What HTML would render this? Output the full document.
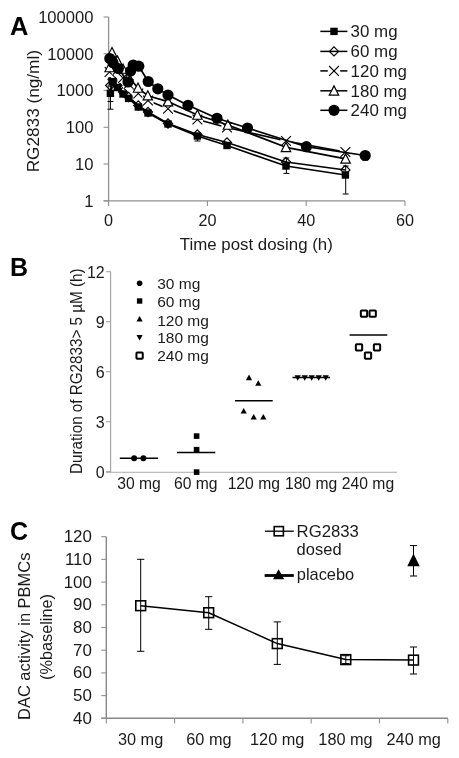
<!DOCTYPE html>
<html><head><meta charset="utf-8"><title>Figure</title>
<style>
html,body{margin:0;padding:0;background:#fff;}
body{width:459px;height:758px;overflow:hidden;font-family:"Liberation Sans",sans-serif;}
svg{display:block;filter:grayscale(1);}
svg text{font-family:"Liberation Sans",sans-serif;}
</style></head><body>
<svg width="459" height="758" viewBox="0 0 459 758">
<rect width="459" height="758" fill="#fff"/>
<text x="9.9" y="34.8" font-size="25" text-anchor="start" fill="#000" textLength="18.4" lengthAdjust="spacingAndGlyphs" font-weight="bold">A</text>
<line x1="108.6" y1="17" x2="108.6" y2="201" stroke="#909090" stroke-width="1.3" />
<line x1="103.6" y1="200.9" x2="405" y2="200.9" stroke="#909090" stroke-width="1.3" />
<line x1="103.6" y1="17" x2="108.6" y2="17" stroke="#909090" stroke-width="1.1" />
<text x="93.5" y="22.8" font-size="16.6" text-anchor="end" fill="#1a1a1a">100000</text>
<line x1="103.6" y1="53.8" x2="108.6" y2="53.8" stroke="#909090" stroke-width="1.1" />
<text x="93.5" y="59.599999999999994" font-size="16.6" text-anchor="end" fill="#1a1a1a">10000</text>
<line x1="103.6" y1="90.5" x2="108.6" y2="90.5" stroke="#909090" stroke-width="1.1" />
<text x="93.5" y="96.3" font-size="16.6" text-anchor="end" fill="#1a1a1a">1000</text>
<line x1="103.6" y1="127.3" x2="108.6" y2="127.3" stroke="#909090" stroke-width="1.1" />
<text x="93.5" y="133.1" font-size="16.6" text-anchor="end" fill="#1a1a1a">100</text>
<line x1="103.6" y1="164" x2="108.6" y2="164" stroke="#909090" stroke-width="1.1" />
<text x="93.5" y="169.8" font-size="16.6" text-anchor="end" fill="#1a1a1a">10</text>
<line x1="103.6" y1="200.8" x2="108.6" y2="200.8" stroke="#909090" stroke-width="1.1" />
<text x="93.5" y="206.60000000000002" font-size="16.6" text-anchor="end" fill="#1a1a1a">1</text>
<line x1="108.6" y1="201" x2="108.6" y2="206" stroke="#909090" stroke-width="1.1" />
<text x="108.6" y="225.5" font-size="16.2" text-anchor="middle" fill="#1a1a1a">0</text>
<line x1="207.39999999999998" y1="201" x2="207.39999999999998" y2="206" stroke="#909090" stroke-width="1.1" />
<text x="207.39999999999998" y="225.5" font-size="16.2" text-anchor="middle" fill="#1a1a1a">20</text>
<line x1="306.2" y1="201" x2="306.2" y2="206" stroke="#909090" stroke-width="1.1" />
<text x="306.2" y="225.5" font-size="16.2" text-anchor="middle" fill="#1a1a1a">40</text>
<line x1="405.0" y1="201" x2="405.0" y2="206" stroke="#909090" stroke-width="1.1" />
<text x="405.0" y="225.5" font-size="16.2" text-anchor="middle" fill="#1a1a1a">60</text>
<text x="256.3" y="249.8" font-size="16.5" text-anchor="middle" fill="#1a1a1a" textLength="153" lengthAdjust="spacingAndGlyphs">Time post dosing (h)</text>
<text x="39" y="111.2" font-size="16.6" text-anchor="middle" fill="#1a1a1a" textLength="122.3" lengthAdjust="spacingAndGlyphs" transform="rotate(-90 39 111.2)">RG2833 (ng/ml)</text>
<line x1="110.4" y1="93" x2="110.4" y2="109.2" stroke="#000" stroke-width="1.0" />
<line x1="107.4" y1="93" x2="113.4" y2="93" stroke="#000" stroke-width="1.0" />
<line x1="107.4" y1="109.2" x2="113.4" y2="109.2" stroke="#000" stroke-width="1.0" />
<line x1="110.4" y1="86" x2="110.4" y2="101.5" stroke="#000" stroke-width="1.0" />
<line x1="107.4" y1="86" x2="113.4" y2="86" stroke="#000" stroke-width="1.0" />
<line x1="107.4" y1="101.5" x2="113.4" y2="101.5" stroke="#000" stroke-width="1.0" />
<line x1="345.7" y1="175" x2="345.7" y2="194" stroke="#000" stroke-width="1.0" />
<line x1="342.7" y1="175" x2="348.7" y2="175" stroke="#000" stroke-width="1.0" />
<line x1="342.7" y1="194" x2="348.7" y2="194" stroke="#000" stroke-width="1.0" />
<line x1="286.4" y1="166" x2="286.4" y2="173.4" stroke="#000" stroke-width="1.0" />
<line x1="283.4" y1="166" x2="289.4" y2="166" stroke="#000" stroke-width="1.0" />
<line x1="283.4" y1="173.4" x2="289.4" y2="173.4" stroke="#000" stroke-width="1.0" />
<line x1="286.4" y1="158" x2="286.4" y2="166" stroke="#000" stroke-width="1.0" />
<line x1="283.4" y1="158" x2="289.4" y2="158" stroke="#000" stroke-width="1.0" />
<line x1="283.4" y1="166" x2="289.4" y2="166" stroke="#000" stroke-width="1.0" />
<line x1="197.5" y1="134" x2="197.5" y2="141" stroke="#000" stroke-width="1.0" />
<line x1="194.5" y1="134" x2="200.5" y2="134" stroke="#000" stroke-width="1.0" />
<line x1="194.5" y1="141" x2="200.5" y2="141" stroke="#000" stroke-width="1.0" />
<line x1="365.2" y1="152" x2="365.2" y2="160" stroke="#000" stroke-width="1.0" />
<line x1="362.2" y1="152" x2="368.2" y2="152" stroke="#000" stroke-width="1.0" />
<line x1="362.2" y1="160" x2="368.2" y2="160" stroke="#000" stroke-width="1.0" />
<line x1="345.7" y1="166" x2="345.7" y2="175" stroke="#000" stroke-width="1.0" />
<line x1="342.7" y1="166" x2="348.7" y2="166" stroke="#000" stroke-width="1.0" />
<line x1="342.7" y1="175" x2="348.7" y2="175" stroke="#000" stroke-width="1.0" />
<polyline fill="none" stroke="#000" stroke-width="1.7" stroke-linejoin="round" points="110.4,93.3 112.6,81.6 117.5,87.5 123,94 128.6,98.4 138.3,107 148,113 168,124 197.4,136 227,145.5 286,166 345.4,175"/>
<rect x="106.7" y="89.6" width="7.4" height="7.4" fill="#000"/>
<rect x="108.89999999999999" y="77.89999999999999" width="7.4" height="7.4" fill="#000"/>
<rect x="113.8" y="83.8" width="7.4" height="7.4" fill="#000"/>
<rect x="119.3" y="90.3" width="7.4" height="7.4" fill="#000"/>
<rect x="124.89999999999999" y="94.7" width="7.4" height="7.4" fill="#000"/>
<rect x="134.60000000000002" y="103.3" width="7.4" height="7.4" fill="#000"/>
<rect x="144.3" y="109.3" width="7.4" height="7.4" fill="#000"/>
<rect x="164.3" y="120.3" width="7.4" height="7.4" fill="#000"/>
<rect x="193.70000000000002" y="132.3" width="7.4" height="7.4" fill="#000"/>
<rect x="223.3" y="141.8" width="7.4" height="7.4" fill="#000"/>
<rect x="282.3" y="162.3" width="7.4" height="7.4" fill="#000"/>
<rect x="341.7" y="171.3" width="7.4" height="7.4" fill="#000"/>
<polyline fill="none" stroke="#000" stroke-width="1.7" stroke-linejoin="round" points="110.2,85.5 112.6,79.5 117.5,85.5 123,92 128.6,97 138.3,105.5 148,112 168,123.5 197.4,134.5 227,142.5 286,162 345.4,170"/>
<path d="M105.60000000000001,85.5 L110.2,80.9 L114.8,85.5 L110.2,90.1 Z" fill="none" stroke="#000" stroke-width="1.1"/>
<path d="M108.0,79.5 L112.6,74.9 L117.19999999999999,79.5 L112.6,84.1 Z" fill="none" stroke="#000" stroke-width="1.1"/>
<path d="M112.9,85.5 L117.5,80.9 L122.1,85.5 L117.5,90.1 Z" fill="none" stroke="#000" stroke-width="1.1"/>
<path d="M118.4,92 L123,87.4 L127.6,92 L123,96.6 Z" fill="none" stroke="#000" stroke-width="1.1"/>
<path d="M124.0,97 L128.6,92.4 L133.2,97 L128.6,101.6 Z" fill="none" stroke="#000" stroke-width="1.1"/>
<path d="M133.70000000000002,105.5 L138.3,100.9 L142.9,105.5 L138.3,110.1 Z" fill="none" stroke="#000" stroke-width="1.1"/>
<path d="M143.4,112 L148,107.4 L152.6,112 L148,116.6 Z" fill="none" stroke="#000" stroke-width="1.1"/>
<path d="M163.4,123.5 L168,118.9 L172.6,123.5 L168,128.1 Z" fill="none" stroke="#000" stroke-width="1.1"/>
<path d="M192.8,134.5 L197.4,129.9 L202.0,134.5 L197.4,139.1 Z" fill="none" stroke="#000" stroke-width="1.1"/>
<path d="M222.4,142.5 L227,137.9 L231.6,142.5 L227,147.1 Z" fill="none" stroke="#000" stroke-width="1.1"/>
<path d="M281.4,162 L286,157.4 L290.6,162 L286,166.6 Z" fill="none" stroke="#000" stroke-width="1.1"/>
<path d="M340.79999999999995,170 L345.4,165.4 L350.0,170 L345.4,174.6 Z" fill="none" stroke="#000" stroke-width="1.1"/>
<polyline fill="none" stroke="#000" stroke-width="1.7" stroke-linejoin="round" points="109.6,72 112.6,65 117.5,70 123,78 128.6,84 138.3,93.5 148,100.5 168,108.8 197.4,119.5 227,127.5 286,141 345.4,152"/>
<rect x="104.0" y="67.0" width="11.2" height="10" fill="#fff"/>
<path d="M104.69999999999999,67.1 L114.5,76.9 M104.69999999999999,76.9 L114.5,67.1" stroke="#000" stroke-width="1.1" fill="none"/>
<rect x="107.0" y="60.0" width="11.2" height="10" fill="#fff"/>
<path d="M107.69999999999999,60.1 L117.5,69.9 M107.69999999999999,69.9 L117.5,60.1" stroke="#000" stroke-width="1.1" fill="none"/>
<rect x="111.9" y="65.0" width="11.2" height="10" fill="#fff"/>
<path d="M112.6,65.1 L122.4,74.9 M112.6,74.9 L122.4,65.1" stroke="#000" stroke-width="1.1" fill="none"/>
<rect x="117.4" y="73.0" width="11.2" height="10" fill="#fff"/>
<path d="M118.1,73.1 L127.9,82.9 M118.1,82.9 L127.9,73.1" stroke="#000" stroke-width="1.1" fill="none"/>
<rect x="123.0" y="79.0" width="11.2" height="10" fill="#fff"/>
<path d="M123.69999999999999,79.1 L133.5,88.9 M123.69999999999999,88.9 L133.5,79.1" stroke="#000" stroke-width="1.1" fill="none"/>
<rect x="132.70000000000002" y="88.5" width="11.2" height="10" fill="#fff"/>
<path d="M133.4,88.6 L143.20000000000002,98.4 M133.4,98.4 L143.20000000000002,88.6" stroke="#000" stroke-width="1.1" fill="none"/>
<rect x="142.4" y="95.5" width="11.2" height="10" fill="#fff"/>
<path d="M143.1,95.6 L152.9,105.4 M143.1,105.4 L152.9,95.6" stroke="#000" stroke-width="1.1" fill="none"/>
<rect x="162.4" y="103.8" width="11.2" height="10" fill="#fff"/>
<path d="M163.1,103.89999999999999 L172.9,113.7 M163.1,113.7 L172.9,103.89999999999999" stroke="#000" stroke-width="1.1" fill="none"/>
<rect x="191.8" y="114.5" width="11.2" height="10" fill="#fff"/>
<path d="M192.5,114.6 L202.3,124.4 M192.5,124.4 L202.3,114.6" stroke="#000" stroke-width="1.1" fill="none"/>
<rect x="221.4" y="122.5" width="11.2" height="10" fill="#fff"/>
<path d="M222.1,122.6 L231.9,132.4 M222.1,132.4 L231.9,122.6" stroke="#000" stroke-width="1.1" fill="none"/>
<rect x="280.4" y="136.0" width="11.2" height="10" fill="#fff"/>
<path d="M281.1,136.1 L290.9,145.9 M281.1,145.9 L290.9,136.1" stroke="#000" stroke-width="1.1" fill="none"/>
<rect x="339.79999999999995" y="147.0" width="11.2" height="10" fill="#fff"/>
<path d="M340.5,147.1 L350.29999999999995,156.9 M340.5,156.9 L350.29999999999995,147.1" stroke="#000" stroke-width="1.1" fill="none"/>
<polyline fill="none" stroke="#000" stroke-width="1.7" stroke-linejoin="round" points="109.6,67.5 112,52.5 117.5,61 123,69 128.6,77 138,88 147.8,95.7 168,101.6 197.4,115 227.9,125 286,147.3 345.6,158.8"/>
<path d="M104.89999999999999,71.73 L109.6,62.565 L114.3,71.73 Z" fill="#fff" stroke="#000" stroke-width="1.2"/>
<path d="M107.3,56.730000000000004 L112,47.565 L116.7,56.730000000000004 Z" fill="#fff" stroke="#000" stroke-width="1.2"/>
<path d="M112.8,65.23 L117.5,56.065 L122.2,65.23 Z" fill="#fff" stroke="#000" stroke-width="1.2"/>
<path d="M118.3,73.23 L123,64.065 L127.7,73.23 Z" fill="#fff" stroke="#000" stroke-width="1.2"/>
<path d="M123.89999999999999,81.23 L128.6,72.065 L133.29999999999998,81.23 Z" fill="#fff" stroke="#000" stroke-width="1.2"/>
<path d="M133.3,92.23 L138,83.065 L142.7,92.23 Z" fill="#fff" stroke="#000" stroke-width="1.2"/>
<path d="M143.10000000000002,99.93 L147.8,90.765 L152.5,99.93 Z" fill="#fff" stroke="#000" stroke-width="1.2"/>
<path d="M163.3,105.83 L168,96.66499999999999 L172.7,105.83 Z" fill="#fff" stroke="#000" stroke-width="1.2"/>
<path d="M192.70000000000002,119.23 L197.4,110.065 L202.1,119.23 Z" fill="#fff" stroke="#000" stroke-width="1.2"/>
<path d="M223.20000000000002,129.23 L227.9,120.065 L232.6,129.23 Z" fill="#fff" stroke="#000" stroke-width="1.2"/>
<path d="M281.3,151.53 L286,142.365 L290.7,151.53 Z" fill="#fff" stroke="#000" stroke-width="1.2"/>
<path d="M340.90000000000003,163.03 L345.6,153.865 L350.3,163.03 Z" fill="#fff" stroke="#000" stroke-width="1.2"/>
<polyline fill="none" stroke="#000" stroke-width="1.7" stroke-linejoin="round" points="109.8,58.5 113,62.7 118.4,68.5 128,82 130.6,71 133.2,65 138.8,66.2 148.2,81.5 157.8,88.8 168,95 188,105.3 217,118.3 247.5,128 306.4,146.7 365.2,155.5"/>
<circle cx="109.8" cy="58.5" r="5.6" fill="#000"/>
<circle cx="113" cy="62.7" r="5.6" fill="#000"/>
<circle cx="118.4" cy="68.5" r="5.6" fill="#000"/>
<circle cx="128" cy="82" r="5.6" fill="#000"/>
<circle cx="130.6" cy="71" r="5.6" fill="#000"/>
<circle cx="133.2" cy="65" r="5.6" fill="#000"/>
<circle cx="138.8" cy="66.2" r="5.6" fill="#000"/>
<circle cx="148.2" cy="81.5" r="5.6" fill="#000"/>
<circle cx="157.8" cy="88.8" r="5.6" fill="#000"/>
<circle cx="168" cy="95" r="5.6" fill="#000"/>
<circle cx="188" cy="105.3" r="5.6" fill="#000"/>
<circle cx="217" cy="118.3" r="5.6" fill="#000"/>
<circle cx="247.5" cy="128" r="5.6" fill="#000"/>
<circle cx="306.4" cy="146.7" r="5.6" fill="#000"/>
<circle cx="365.2" cy="155.5" r="5.6" fill="#000"/>
<line x1="320.3" y1="31.4" x2="347.4" y2="31.4" stroke="#000" stroke-width="1.5" />
<text x="350.6" y="37.3" font-size="16.9" text-anchor="start" fill="#1a1a1a">30 mg</text>
<line x1="320.3" y1="51.4" x2="347.4" y2="51.4" stroke="#000" stroke-width="1.5" />
<text x="350.6" y="57.3" font-size="16.9" text-anchor="start" fill="#1a1a1a">60 mg</text>
<line x1="320.3" y1="70.9" x2="347.4" y2="70.9" stroke="#000" stroke-width="1.5" />
<text x="350.6" y="76.80000000000001" font-size="16.9" text-anchor="start" fill="#1a1a1a">120 mg</text>
<line x1="320.3" y1="90.8" x2="347.4" y2="90.8" stroke="#000" stroke-width="1.5" />
<text x="350.6" y="96.7" font-size="16.9" text-anchor="start" fill="#1a1a1a">180 mg</text>
<line x1="320.3" y1="110.3" x2="347.4" y2="110.3" stroke="#000" stroke-width="1.5" />
<text x="350.6" y="116.2" font-size="16.9" text-anchor="start" fill="#1a1a1a">240 mg</text>
<rect x="330.3" y="27.7" width="7.4" height="7.4" fill="#000"/>
<path d="M329.4,51.4 L334,46.8 L338.6,51.4 L334,56.0 Z" fill="none" stroke="#000" stroke-width="1.1"/>
<rect x="327.8" y="67.9" width="12.4" height="6" fill="#fff"/>
<path d="M329.1,66.0 L338.9,75.80000000000001 M329.1,75.80000000000001 L338.9,66.0" stroke="#000" stroke-width="1.1" fill="none"/>
<path d="M329.3,95.03 L334,85.865 L338.7,95.03 Z" fill="#fff" stroke="#000" stroke-width="1.2"/>
<circle cx="334" cy="110.3" r="5.6" fill="#000"/>
<text x="10" y="275.8" font-size="25" text-anchor="start" fill="#000" font-weight="bold">B</text>
<line x1="110.6" y1="271.7" x2="110.6" y2="472.3" stroke="#a0a0a0" stroke-width="1.1" />
<line x1="106.1" y1="472.3" x2="397" y2="472.3" stroke="#a8a8a8" stroke-width="1.1" />
<line x1="106.1" y1="271.7" x2="110.6" y2="271.7" stroke="#a0a0a0" stroke-width="1.1" />
<text x="104.7" y="277.7" font-size="16" text-anchor="end" fill="#1a1a1a">12</text>
<line x1="106.1" y1="321.7" x2="110.6" y2="321.7" stroke="#a0a0a0" stroke-width="1.1" />
<text x="104.7" y="327.7" font-size="16" text-anchor="end" fill="#1a1a1a">9</text>
<line x1="106.1" y1="371.7" x2="110.6" y2="371.7" stroke="#a0a0a0" stroke-width="1.1" />
<text x="104.7" y="377.7" font-size="16" text-anchor="end" fill="#1a1a1a">6</text>
<line x1="106.1" y1="421.7" x2="110.6" y2="421.7" stroke="#a0a0a0" stroke-width="1.1" />
<text x="104.7" y="427.7" font-size="16" text-anchor="end" fill="#1a1a1a">3</text>
<line x1="106.1" y1="471.7" x2="110.6" y2="471.7" stroke="#a0a0a0" stroke-width="1.1" />
<text x="104.7" y="477.7" font-size="16" text-anchor="end" fill="#1a1a1a">0</text>
<text x="81.6" y="371.2" font-size="15.6" text-anchor="middle" fill="#1a1a1a" textLength="205.5" lengthAdjust="spacingAndGlyphs" transform="rotate(-90 81.6 371.2)">Duration of RG2833&gt; 5 µM (h)</text>
<text x="139" y="489.0" font-size="15.7" text-anchor="middle" fill="#1a1a1a">30 mg</text>
<text x="195.8" y="489.0" font-size="15.7" text-anchor="middle" fill="#1a1a1a">60 mg</text>
<text x="253.8" y="489.0" font-size="15.7" text-anchor="middle" fill="#1a1a1a">120 mg</text>
<text x="311.1" y="489.0" font-size="15.7" text-anchor="middle" fill="#1a1a1a">180 mg</text>
<text x="368.0" y="489.0" font-size="15.7" text-anchor="middle" fill="#1a1a1a">240 mg</text>
<text x="157.2" y="288.90000000000003" font-size="15.5" text-anchor="start" fill="#1a1a1a">30 mg</text>
<text x="157.2" y="307.40000000000003" font-size="15.5" text-anchor="start" fill="#1a1a1a">60 mg</text>
<text x="157.2" y="325.90000000000003" font-size="15.5" text-anchor="start" fill="#1a1a1a">120 mg</text>
<text x="157.2" y="343.3" font-size="15.5" text-anchor="start" fill="#1a1a1a">180 mg</text>
<text x="157.2" y="361.1" font-size="15.5" text-anchor="start" fill="#1a1a1a">240 mg</text>
<circle cx="139.6" cy="283.3" r="2.8" fill="#000"/>
<rect x="136.9" y="298.3" width="5.4" height="5.4" fill="#000"/>
<path d="M136.5,321.48 L139.6,315.9 L142.7,321.48 Z" fill="#000"/>
<path d="M136.5,334.91999999999996 L139.6,340.5 L142.7,334.91999999999996 Z" fill="#000"/>
<rect x="136.45" y="352.45000000000005" width="6.3" height="6.3" rx="0.8" fill="#fff" stroke="#000" stroke-width="2.0"/>
<line x1="119.8" y1="458.2" x2="158.1" y2="458.2" stroke="#000" stroke-width="1.5" />
<circle cx="134.1" cy="458.3" r="3" fill="#000"/>
<circle cx="143.4" cy="458.3" r="3" fill="#000"/>
<line x1="177" y1="452.6" x2="215.3" y2="452.6" stroke="#000" stroke-width="1.5" />
<rect x="193.79999999999998" y="433.3" width="5.6" height="5.6" fill="#000"/>
<rect x="193.79999999999998" y="446.9" width="5.6" height="5.6" fill="#000"/>
<rect x="193.79999999999998" y="469.3" width="5.6" height="5.6" fill="#000"/>
<line x1="235" y1="400.7" x2="272.7" y2="400.7" stroke="#000" stroke-width="1.5" />
<path d="M245.9,380.18 L249,374.59999999999997 L252.1,380.18 Z" fill="#000"/>
<path d="M255.20000000000002,385.78000000000003 L258.3,380.2 L261.40000000000003,385.78000000000003 Z" fill="#000"/>
<path d="M240.6,413.48 L243.7,407.9 L246.79999999999998,413.48 Z" fill="#000"/>
<path d="M250.6,419.48 L253.7,413.9 L256.8,419.48 Z" fill="#000"/>
<path d="M260.2,419.48 L263.3,413.9 L266.40000000000003,419.48 Z" fill="#000"/>
<line x1="292.5" y1="377.5" x2="330" y2="377.5" stroke="#000" stroke-width="1.5" />
<path d="M294.59999999999997,375.21999999999997 L297.7,380.8 L300.8,375.21999999999997 Z" fill="#000"/>
<path d="M301.59999999999997,375.21999999999997 L304.7,380.8 L307.8,375.21999999999997 Z" fill="#000"/>
<path d="M308.59999999999997,375.21999999999997 L311.7,380.8 L314.8,375.21999999999997 Z" fill="#000"/>
<path d="M315.59999999999997,375.21999999999997 L318.7,380.8 L321.8,375.21999999999997 Z" fill="#000"/>
<path d="M322.59999999999997,375.21999999999997 L325.7,380.8 L328.8,375.21999999999997 Z" fill="#000"/>
<line x1="349.6" y1="335" x2="387.3" y2="335" stroke="#000" stroke-width="1.5" />
<rect x="360.85" y="310.55" width="6.3" height="6.3" rx="0.8" fill="#fff" stroke="#000" stroke-width="2.0"/>
<rect x="369.55" y="310.55" width="6.3" height="6.3" rx="0.8" fill="#fff" stroke="#000" stroke-width="2.0"/>
<rect x="355.85" y="344.15000000000003" width="6.3" height="6.3" rx="0.8" fill="#fff" stroke="#000" stroke-width="2.0"/>
<rect x="364.85" y="352.55" width="6.3" height="6.3" rx="0.8" fill="#fff" stroke="#000" stroke-width="2.0"/>
<rect x="373.85" y="344.15000000000003" width="6.3" height="6.3" rx="0.8" fill="#fff" stroke="#000" stroke-width="2.0"/>
<text x="10.0" y="539.9" font-size="25" text-anchor="start" fill="#000" font-weight="bold">C</text>
<line x1="106.3" y1="536.7" x2="106.3" y2="718.3" stroke="#888" stroke-width="1.4" />
<line x1="101.3" y1="718.3" x2="448" y2="718.3" stroke="#888" stroke-width="1.4" />
<line x1="101.3" y1="536.7" x2="106.3" y2="536.7" stroke="#909090" stroke-width="1.1" />
<text x="91.9" y="542.2" font-size="16.9" text-anchor="end" fill="#1a1a1a">120</text>
<line x1="101.3" y1="559.4000000000001" x2="106.3" y2="559.4000000000001" stroke="#909090" stroke-width="1.1" />
<text x="91.9" y="564.9000000000001" font-size="16.9" text-anchor="end" fill="#1a1a1a">110</text>
<line x1="101.3" y1="582.1" x2="106.3" y2="582.1" stroke="#909090" stroke-width="1.1" />
<text x="91.9" y="587.6" font-size="16.9" text-anchor="end" fill="#1a1a1a">100</text>
<line x1="101.3" y1="604.8000000000001" x2="106.3" y2="604.8000000000001" stroke="#909090" stroke-width="1.1" />
<text x="91.9" y="610.3000000000001" font-size="16.9" text-anchor="end" fill="#1a1a1a">90</text>
<line x1="101.3" y1="627.5" x2="106.3" y2="627.5" stroke="#909090" stroke-width="1.1" />
<text x="91.9" y="633.0" font-size="16.9" text-anchor="end" fill="#1a1a1a">80</text>
<line x1="101.3" y1="650.2" x2="106.3" y2="650.2" stroke="#909090" stroke-width="1.1" />
<text x="91.9" y="655.7" font-size="16.9" text-anchor="end" fill="#1a1a1a">70</text>
<line x1="101.3" y1="672.9000000000001" x2="106.3" y2="672.9000000000001" stroke="#909090" stroke-width="1.1" />
<text x="91.9" y="678.4000000000001" font-size="16.9" text-anchor="end" fill="#1a1a1a">60</text>
<line x1="101.3" y1="695.6" x2="106.3" y2="695.6" stroke="#909090" stroke-width="1.1" />
<text x="91.9" y="701.1" font-size="16.9" text-anchor="end" fill="#1a1a1a">50</text>
<line x1="101.3" y1="718.3000000000001" x2="106.3" y2="718.3000000000001" stroke="#909090" stroke-width="1.1" />
<text x="91.9" y="723.8000000000001" font-size="16.9" text-anchor="end" fill="#1a1a1a">40</text>
<line x1="106.3" y1="718.5" x2="106.3" y2="723.5" stroke="#909090" stroke-width="1.1" />
<line x1="174.6" y1="718.5" x2="174.6" y2="723.5" stroke="#909090" stroke-width="1.1" />
<line x1="242.89999999999998" y1="718.5" x2="242.89999999999998" y2="723.5" stroke="#909090" stroke-width="1.1" />
<line x1="311.2" y1="718.5" x2="311.2" y2="723.5" stroke="#909090" stroke-width="1.1" />
<line x1="379.5" y1="718.5" x2="379.5" y2="723.5" stroke="#909090" stroke-width="1.1" />
<line x1="447.8" y1="718.5" x2="447.8" y2="723.5" stroke="#909090" stroke-width="1.1" />
<text x="140.6" y="744.6" font-size="16.3" text-anchor="middle" fill="#1a1a1a">30 mg</text>
<text x="208.9" y="744.6" font-size="16.3" text-anchor="middle" fill="#1a1a1a">60 mg</text>
<text x="277.2" y="744.6" font-size="16.3" text-anchor="middle" fill="#1a1a1a">120 mg</text>
<text x="345.5" y="744.6" font-size="16.3" text-anchor="middle" fill="#1a1a1a">180 mg</text>
<text x="413.7" y="744.6" font-size="16.3" text-anchor="middle" fill="#1a1a1a">240 mg</text>
<text x="30.2" y="636.3" font-size="16.4" text-anchor="middle" fill="#1a1a1a" textLength="167.3" lengthAdjust="spacingAndGlyphs" transform="rotate(-90 30.2 636.3)">DAC activity in PBMCs</text>
<text x="52" y="637" font-size="16.3" text-anchor="middle" fill="#1a1a1a" textLength="86" lengthAdjust="spacingAndGlyphs" transform="rotate(-90 52 637)">(%baseline)</text>
<line x1="140.7" y1="559.3" x2="140.7" y2="651.3" stroke="#000" stroke-width="1.0" />
<line x1="137.1" y1="559.3" x2="144.29999999999998" y2="559.3" stroke="#000" stroke-width="1.0" />
<line x1="137.1" y1="651.3" x2="144.29999999999998" y2="651.3" stroke="#000" stroke-width="1.0" />
<line x1="208.7" y1="596.7" x2="208.7" y2="629.3" stroke="#000" stroke-width="1.0" />
<line x1="205.1" y1="596.7" x2="212.29999999999998" y2="596.7" stroke="#000" stroke-width="1.0" />
<line x1="205.1" y1="629.3" x2="212.29999999999998" y2="629.3" stroke="#000" stroke-width="1.0" />
<line x1="277.3" y1="621.9" x2="277.3" y2="664.4" stroke="#000" stroke-width="1.0" />
<line x1="273.7" y1="621.9" x2="280.90000000000003" y2="621.9" stroke="#000" stroke-width="1.0" />
<line x1="273.7" y1="664.4" x2="280.90000000000003" y2="664.4" stroke="#000" stroke-width="1.0" />
<line x1="345.8" y1="655.7" x2="345.8" y2="663.5" stroke="#000" stroke-width="1.0" />
<line x1="342.2" y1="655.7" x2="349.40000000000003" y2="655.7" stroke="#000" stroke-width="1.0" />
<line x1="342.2" y1="663.5" x2="349.40000000000003" y2="663.5" stroke="#000" stroke-width="1.0" />
<line x1="413.5" y1="647" x2="413.5" y2="674" stroke="#000" stroke-width="1.0" />
<line x1="409.9" y1="647" x2="417.1" y2="647" stroke="#000" stroke-width="1.0" />
<line x1="409.9" y1="674" x2="417.1" y2="674" stroke="#000" stroke-width="1.0" />
<polyline fill="none" stroke="#000" stroke-width="1.5" stroke-linejoin="round" points="140.7,605.7 208.7,612.7 277.3,643.6 345.8,659.6 413.5,660.1"/>
<rect x="135.79999999999998" y="600.8000000000001" width="9.8" height="9.8" fill="none" stroke="#000" stroke-width="1.6"/>
<rect x="203.79999999999998" y="607.8000000000001" width="9.8" height="9.8" fill="none" stroke="#000" stroke-width="1.6"/>
<rect x="272.40000000000003" y="638.7" width="9.8" height="9.8" fill="none" stroke="#000" stroke-width="1.6"/>
<rect x="340.90000000000003" y="654.7" width="9.8" height="9.8" fill="none" stroke="#000" stroke-width="1.6"/>
<rect x="408.6" y="655.2" width="9.8" height="9.8" fill="none" stroke="#000" stroke-width="1.6"/>
<line x1="413.5" y1="545.6" x2="413.5" y2="576" stroke="#000" stroke-width="1.0" />
<line x1="409.9" y1="545.6" x2="417.1" y2="545.6" stroke="#000" stroke-width="1.0" />
<line x1="409.9" y1="576" x2="417.1" y2="576" stroke="#000" stroke-width="1.0" />
<path d="M407.3,566.3 L413.5,553.6 L419.7,566.3 Z" fill="#000"/>
<line x1="265" y1="531.2" x2="293.8" y2="531.2" stroke="#000" stroke-width="1.3" />
<rect x="274.2" y="526.6" width="9.2" height="9.2" fill="none" stroke="#000" stroke-width="1.6"/>
<text x="296.6" y="537.4" font-size="16.4" text-anchor="start" fill="#1a1a1a" textLength="62.3" lengthAdjust="spacingAndGlyphs">RG2833</text>
<text x="296.6" y="555.1" font-size="16.4" text-anchor="start" fill="#1a1a1a" textLength="45" lengthAdjust="spacingAndGlyphs">dosed</text>
<line x1="264.6" y1="575.5" x2="293.8" y2="575.5" stroke="#000" stroke-width="2.8" />
<path d="M273.0,579.3 L278.6,569.2 L284.2,579.3 Z" fill="#000"/>
<text x="296.8" y="580.2" font-size="16.4" text-anchor="start" fill="#1a1a1a" textLength="57.4" lengthAdjust="spacingAndGlyphs">placebo</text>
</svg>
</body></html>
